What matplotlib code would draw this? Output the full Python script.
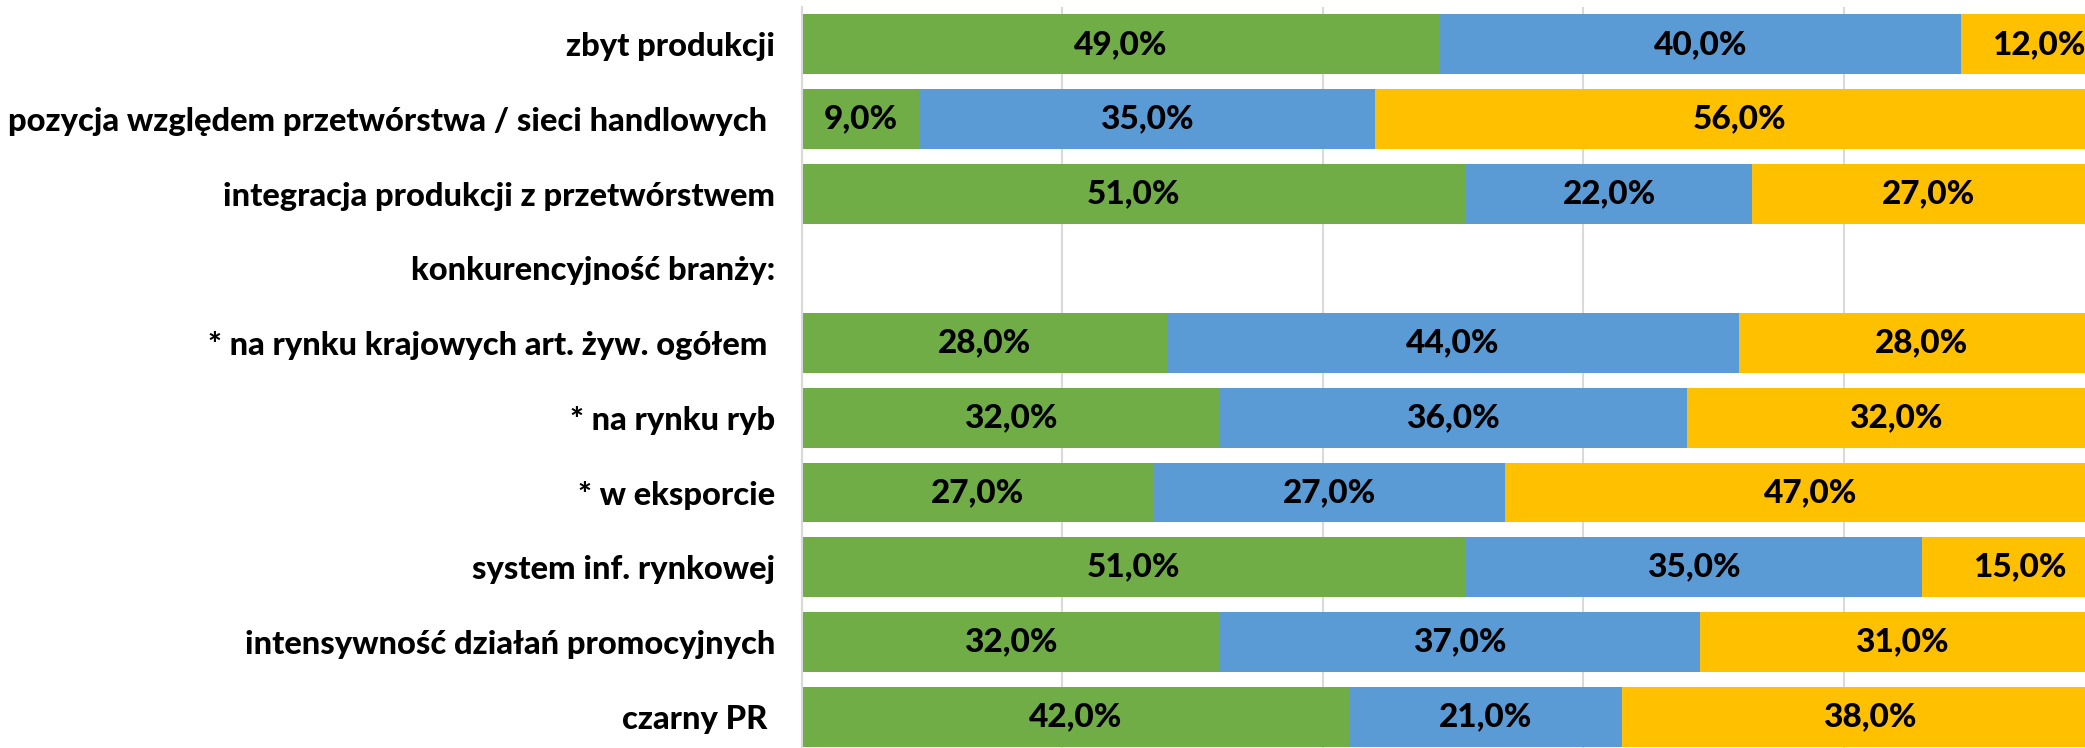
import matplotlib
matplotlib.use("Agg")
import matplotlib.pyplot as plt
from matplotlib import font_manager
import numpy as np

categories = [
    "zbyt produkcji",
    "pozycja względem przetwórstwa / sieci handlowych ",
    "integracja produkcji z przetwórstwem",
    "konkurencyjność branży:",
    "* na rynku krajowych art. żyw. ogółem ",
    "* na rynku ryb",
    "* w eksporcie",
    "system inf. rynkowej",
    "intensywność działań promocyjnych",
    "czarny PR ",
]
green_vals = [0.49, 0.09, 0.51, None, 0.28, 0.32, 0.27, 0.51, 0.32, 0.42]
blue_vals = [0.40, 0.35, 0.22, None, 0.44, 0.36, 0.27, 0.35, 0.37, 0.21]
yellow_vals = [0.12, 0.56, 0.27, None, 0.28, 0.32, 0.47, 0.15, 0.31, 0.38]

colors = ["#70AD47", "#5B9BD5", "#FFC000"]
FONT = "Lato"
lato = sorted({(f.name, f.weight, f.fname.split('/')[-1]) for f in font_manager.fontManager.ttflist if 'Lato' in f.name})
print(lato)

W, H = 2085, 748
fig = plt.figure(figsize=(W / 100, H / 100), dpi=100)
ax = fig.add_axes([802 / W, 1 - 754 / H, 1302 / W, 747 / H])

y = np.arange(len(categories))
left = np.zeros(len(categories))
for vals, col in zip([green_vals, blue_vals, yellow_vals], colors):
    v = np.array([np.nan if x is None else x for x in vals])
    vz = np.nan_to_num(v)
    ax.barh(y, vz, left=left, height=0.8, color=col, edgecolor="none", zorder=2)
    for i, val in enumerate(v):
        if not np.isnan(val):
            ax.text(left[i] + val / 2, y[i], f"{val*100:.1f}%".replace(".", ","),
                    ha="center", va="center", fontsize=24, fontweight=900,
                    family=FONT, color="black", zorder=3)
    left = left + vz

ax.set_xlim(0, 1.0)
ax.set_ylim(len(categories) - 0.5, -0.5)
ax.set_yticks(y)
ax.set_yticklabels(categories, fontsize=23.5, fontweight=900, family=FONT)
ax.tick_params(axis="y", length=0, pad=19.5)
ax.set_xticks(np.arange(0, 1.01, 0.2))
ax.tick_params(axis="x", length=0, labelbottom=False)
ax.grid(axis="x", color="#D9D9D9", linewidth=1.5, zorder=0)
for s in ["top", "right", "bottom"]:
    ax.spines[s].set_visible(False)
ax.spines["left"].set_color("#D9D9D9")
ax.spines["left"].set_linewidth(1.5)

fig.savefig("out.png", dpi=100)
